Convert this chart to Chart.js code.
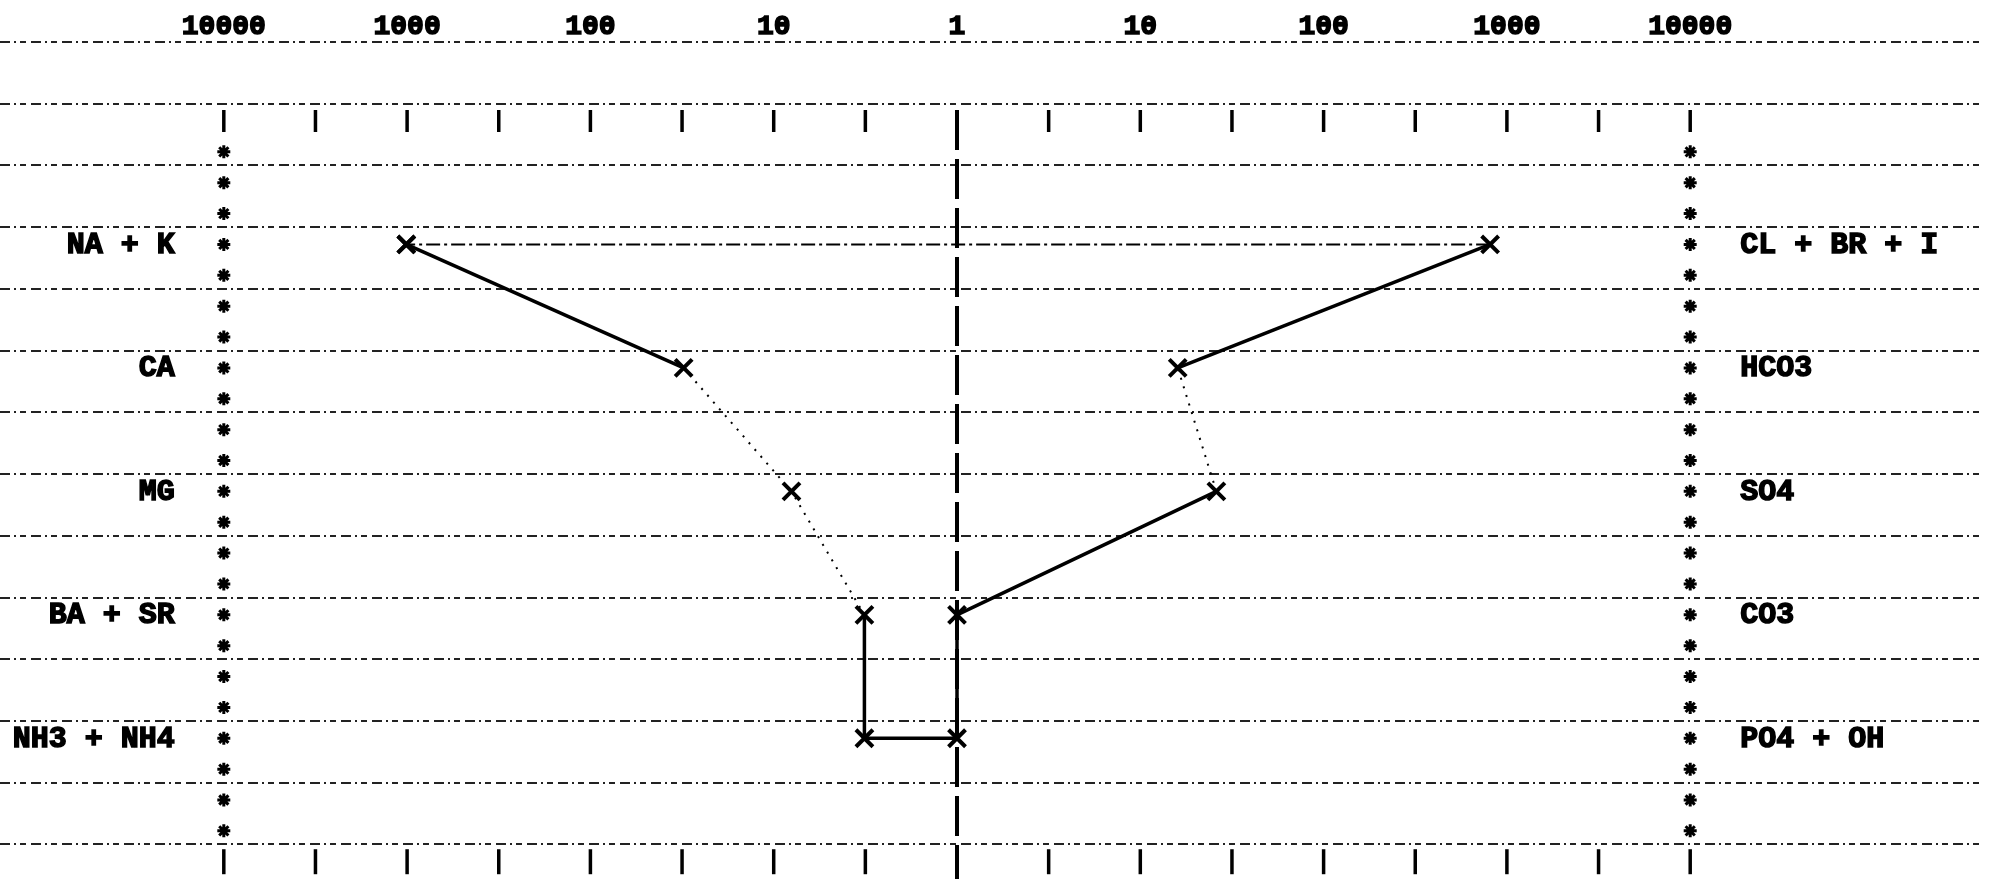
<!DOCTYPE html>
<html>
<head>
<meta charset="utf-8">
<script src="https://cdn.jsdelivr.net/npm/chart.js@4.4.1/dist/chart.umd.min.js"></script>
<style>
  html, body { margin: 0; padding: 0; background: #fff; }
  canvas { display: block; }
</style>
</head>
<body>
<canvas id="stiff" width="2001" height="879"></canvas>
<script>
// Cationes (lado izquierdo) y aniones (lado derecho), de arriba a abajo
const cations = ['NA + K', 'CA', 'MG', 'BA + SR', 'NH3 + NH4'];
const cationValues = [1010, 31, 8, 3.2, 3.2];
const anions = ['CL + BR + I', 'HCO3', 'SO4', 'CO3', 'PO4 + OH'];
const anionValues = [810, 16, 26, 1, 1];

// Eje superior: décadas en espejo desde el centro (log10)
const decadeTicks = [-4, -3, -2, -1, 0, 1, 2, 3, 4];
const decadeLabels = ['10000', '1000', '100', '10', '1', '10', '100', '1000', '10000'];
// marcas cortas cada media década
const halfDecadeTicks = [-4, -3.5, -3, -2.5, -2, -1.5, -1, -0.5, 0, 0.5, 1, 1.5, 2, 2.5, 3, 3.5, 4];
// renglones del papel de impresora
const paperLines = [-0.64, -0.14, 0.36, 0.86, 1.36, 1.86, 2.36, 2.86, 3.36, 3.86, 4.36, 4.86, 5.36, 5.86];
// columnas de asteriscos
const asteriskRows = [0.25, 0.5, 0.75, 1, 1.25, 1.5, 1.75, 2, 2.25, 2.5, 2.75, 3, 3.25, 3.5, 3.75, 4,
                      4.25, 4.5, 4.75, 5, 5.25, 5.5, 5.75];

// estilo de cada tramo del polígono (del 0 al cierre)
const segmentStyle = ['solid', 'dot', 'dot', 'solid', 'solid', 'solid', 'solid', 'dot', 'solid', 'dash'];

const FONT = '"Liberation Mono", "DejaVu Sans Mono", monospace';

// Armamos el polígono: cationes hacia abajo, aniones hacia arriba y cerramos
const polygon = [];
cations.forEach((c, i) => polygon.push({x: -Math.log10(cationValues[i]), y: i + 1}));
for (let i = anions.length - 1; i >= 0; i--) {
    polygon.push({x: Math.log10(anionValues[i]), y: i + 1});
}
polygon.push(polygon[0]);

function dashFor(s) {
    if (s === 'dot') return [2, 7];
    if (s === 'dash') return [14, 4, 3, 4];
    return [];
}
function widthFor(s) {
    if (s === 'dot') return 2;
    if (s === 'dash') return 2;
    return 3.5;
}

// Etiquetas de cada renglón a los lados de las columnas de asteriscos
const rowLabels = {
    id: 'rowLabels',
    afterDatasetsDraw(chart) {
        const {ctx, scales: {x, y}} = chart;
        ctx.save();
        ctx.font = 'bold 30px ' + FONT;
        ctx.fillStyle = '#000';
        ctx.strokeStyle = '#000';
        ctx.lineWidth = 1.5;
        ctx.textBaseline = 'middle';
        ctx.textAlign = 'right';
        cations.forEach((c, i) => {
            const px = x.getPixelForValue(-4) - 49, py = y.getPixelForValue(i + 1) + 1;
            ctx.fillText(c, px, py);
            ctx.strokeText(c, px, py);
        });
        ctx.textAlign = 'left';
        anions.forEach((a, i) => {
            const px = x.getPixelForValue(4) + 50, py = y.getPixelForValue(i + 1) + 1;
            ctx.fillText(a, px, py);
            ctx.strokeText(a, px, py);
        });
        ctx.restore();
    }
};

new Chart(document.getElementById('stiff'), {
    type: 'scatter',
    data: {
        datasets: [
            {
                // el diagrama
                data: polygon,
                showLine: true,
                borderColor: '#000',
                borderWidth: 3.5,
                pointStyle: 'crossRot',
                pointRadius: 12,
                pointBorderWidth: 4,
                pointBorderColor: '#000',
                segment: {
                    borderDash: ctx => dashFor(segmentStyle[ctx.p0DataIndex]),
                    borderWidth: ctx => widthFor(segmentStyle[ctx.p0DataIndex])
                }
            },
            {
                // línea central discontinua
                data: [{x: 0, y: -0.09}, {x: 0, y: 6.4}],
                showLine: true,
                borderColor: '#000',
                borderWidth: 4,
                borderDash: [40, 9],
                pointRadius: 0
            },
            {
                // marcas superiores
                data: halfDecadeTicks.map(v => ({x: v, y: 0})),
                pointStyle: 'line',
                rotation: 90,
                pointRadius: 11,
                pointBorderWidth: 3.5,
                pointBorderColor: '#000'
            },
            {
                // marcas inferiores
                data: halfDecadeTicks.map(v => ({x: v, y: 6})),
                pointStyle: 'line',
                rotation: 90,
                pointRadius: 12.5,
                pointBorderWidth: 3.5,
                pointBorderColor: '#000'
            },
            {
                // asteriscos a ambos lados
                data: asteriskRows.map(r => ({x: -4, y: r})).concat(asteriskRows.map(r => ({x: 4, y: r}))),
                pointStyle: 'star',
                pointRadius: 6.5,
                pointBorderWidth: 3,
                pointBorderColor: '#000'
            }
        ]
    },
    options: {
        responsive: false,
        animation: false,
        devicePixelRatio: 1,
        layout: {autoPadding: false, padding: {left: 0, right: 21, top: 0, bottom: 0}},
        plugins: {legend: {display: false}, tooltip: {enabled: false}},
        scales: {
            x: {
                type: 'linear',
                position: 'top',
                min: -5.221,
                max: 5.581,
                afterBuildTicks: s => { s.ticks = decadeTicks.map(v => ({value: v})); },
                afterFit: s => { s.height = 42; s.paddingLeft = 0; s.paddingRight = 0; },
                grid: {display: false},
                border: {display: false},
                ticks: {
                    autoSkip: false,
                    maxRotation: 0,
                    padding: -10,
                    color: '#000',
                    textStrokeColor: '#000',
                    textStrokeWidth: 1.5,
                    font: {family: FONT, size: 28, weight: 'bold'},
                    callback: (v, i) => decadeLabels[i]
                }
            },
            y: {
                type: 'linear',
                reverse: true,
                min: -0.64,
                max: 6.14,
                afterBuildTicks: s => { s.ticks = paperLines.map(v => ({value: v})); },
                afterFit: s => { s.width = 0; s.paddingTop = 0; s.paddingBottom = 0; },
                ticks: {display: false},
                grid: {color: '#222', lineWidth: 2, drawTicks: false},
                border: {display: false, dash: [10, 4, 2, 4, 6, 5]}
            }
        }
    },
    plugins: [rowLabels]
});
</script>
</body>
</html>
